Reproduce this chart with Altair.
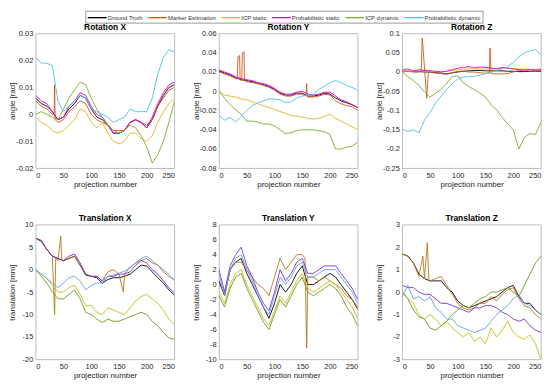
import altair as alt
import pandas as pd

SERIES = ["Ground Truth", "Marker Estimation", "ICP static",
          "Probabilistic static", "ICP dynamic", "Probabilistic dynamic"]
TOP_COLORS = ["#000000", "#D95319", "#EDB120", "#E000E0", "#77AC30", "#4DBEEE"]
BOTTOM_COLORS = ["#000000", "#B8761E", "#C8BE14", "#7A35C8", "#6E9A22", "#6A9CF0"]

X = list(range(0, 251, 10))
X_TICKS = [0, 50, 100, 150, 200, 250]

# ---------------- Rotation X ----------------
RX_GT = [0.006, 0.004, 0.003, 0.001, -0.002, -0.001, 0.002, 0.004, 0.007, 0.006, 0.002, -0.001, -0.002,
         -0.004, -0.007, -0.007, -0.006, -0.003, -0.002, -0.003, -0.005, -0.002, 0.003, 0.007, 0.010, 0.011]
RX_MARKER_X = [0, 10, 20, 30, 33, 34, 35, 40, 50, 60, 70, 80, 90, 100, 110, 120, 130, 140, 150, 160,
               170, 180, 190, 200, 210, 220, 230, 240, 250]
RX_MARKER = [0.005, 0.003, 0.002, 0.000, 0.000, 0.011, -0.002, -0.003, -0.002, 0.001, 0.003, 0.005, 0.004,
             0.000, -0.002, -0.003, -0.004, -0.006, -0.006, -0.006, -0.003, -0.002, -0.003, -0.004, -0.002,
             0.003, 0.006, 0.009, 0.010]
RX_ICPS = [-0.001, -0.003, -0.004, -0.006, -0.007, -0.006, -0.004, -0.002, 0.002, 0.001, -0.003, -0.005,
           -0.003, -0.007, -0.010, -0.011, -0.010, -0.007, -0.007, -0.009, -0.010, -0.008, -0.003, 0.001,
           0.004, 0.006]
RX_PROBS = [0.007, 0.005, 0.004, 0.001, -0.002, -0.001, 0.003, 0.005, 0.008, 0.007, 0.003, 0.000, -0.001,
            -0.004, -0.007, -0.007, -0.006, -0.003, -0.002, -0.003, -0.005, -0.001, 0.004, 0.008, 0.011, 0.012]
RX_ICPD = [0.000, 0.001, 0.000, -0.001, -0.002, 0.002, 0.006, 0.009, 0.012, 0.011, 0.006, 0.002, -0.001,
           -0.004, -0.006, -0.007, -0.006, -0.004, -0.005, -0.008, -0.012, -0.018, -0.015, -0.010, -0.003,
           0.005]
RX_PROBD = [0.021, 0.019, 0.019, 0.018, 0.005, 0.001, 0.003, 0.005, 0.007, 0.006, 0.002, 0.001, 0.000,
            -0.001, -0.003, -0.002, -0.001, 0.002, 0.001, 0.001, 0.001, 0.006, 0.015, 0.021, 0.024, 0.023]

# ---------------- Rotation Y ----------------
RY_GT = [0.021, 0.019, 0.017, 0.014, 0.012, 0.011, 0.010, 0.008, 0.007, 0.005, 0.002, -0.002, -0.004,
         -0.004, -0.002, -0.002, -0.005, -0.005, -0.004, -0.002, -0.003, -0.007, -0.010, -0.012, -0.014, -0.017]
RY_MARKER_X = [0, 10, 20, 30, 33, 34, 37, 38, 40, 41, 42, 45, 46, 50, 60, 70, 80, 90, 100, 110, 120, 130,
               140, 150, 157, 158, 159, 160, 170, 180, 190, 200, 210, 220, 230, 240, 250]
RY_MARKER = [0.020, 0.018, 0.016, 0.013, 0.013, 0.036, 0.037, 0.012, 0.011, 0.012, 0.040, 0.041, 0.011,
             0.010, 0.009, 0.008, 0.006, 0.004, 0.001, -0.003, -0.005, -0.005, -0.003, -0.003, -0.005, 0.008,
             -0.005, -0.006, -0.006, -0.005, -0.003, -0.004, -0.010, -0.013, -0.015, -0.016, -0.020]
RY_ICPS = [0.000, -0.004, -0.005, -0.006, -0.008, -0.009, -0.011, -0.013, -0.015, -0.017, -0.019, -0.021,
           -0.023, -0.025, -0.026, -0.027, -0.028, -0.029, -0.028, -0.026, -0.024, -0.028, -0.031, -0.034,
           -0.037, -0.040]
RY_PROBS = [0.022, 0.020, 0.018, 0.015, 0.013, 0.012, 0.011, 0.009, 0.008, 0.006, 0.003, -0.001, -0.003,
            -0.003, -0.001, 0.000, -0.003, -0.004, -0.003, -0.001, -0.001, -0.005, -0.009, -0.011, -0.014,
            -0.017]
RY_ICPD = [0.000, -0.007, -0.014, -0.019, -0.024, -0.031, -0.031, -0.032, -0.034, -0.034, -0.036, -0.040,
           -0.044, -0.043, -0.041, -0.040, -0.040, -0.040, -0.041, -0.042, -0.045, -0.060, -0.060, -0.058,
           -0.057, -0.053]
RY_PROBD = [-0.025, -0.030, -0.027, -0.032, -0.026, -0.020, -0.015, -0.012, -0.010, -0.008, -0.008, -0.009,
            -0.012, -0.011, -0.007, -0.005, -0.004, -0.003, 0.002, 0.005, 0.009, 0.011, 0.009, 0.006, 0.004,
            0.001]

# ---------------- Rotation Z ----------------
RZ_GT = [0.002, 0.002, 0.001, 0.001, 0.000, 0.000, -0.002, -0.003, -0.005, -0.002, 0.000, 0.002, 0.003,
         0.004, 0.004, 0.003, 0.003, 0.003, 0.003, 0.002, 0.002, 0.001, 0.001, 0.002, 0.002, 0.002]
RZ_MARKER_X = [0, 10, 20, 30, 34, 36, 44, 47, 50, 60, 70, 80, 90, 100, 110, 120, 130, 140, 150, 157, 158,
               160, 170, 180, 190, 200, 210, 220, 230, 240, 250]
RZ_MARKER = [0.000, 0.002, 0.000, 0.000, 0.002, 0.088, -0.068, 0.000, 0.000, -0.003, -0.004, -0.006, -0.002,
             0.002, 0.002, 0.000, 0.000, -0.002, -0.003, -0.003, 0.062, -0.004, -0.005, -0.005, -0.004, 0.000,
             0.004, 0.005, 0.006, 0.005, 0.005]
RZ_ICPS = [0.002, 0.003, 0.002, 0.003, 0.003, 0.002, 0.001, 0.001, 0.002, 0.004, 0.006, 0.007, 0.008, 0.008,
           0.008, 0.008, 0.008, 0.009, 0.010, 0.010, 0.009, 0.008, 0.008, 0.007, 0.007, 0.008]
RZ_PROBS = [0.005, 0.008, 0.003, 0.006, 0.004, 0.003, 0.002, 0.000, 0.002, 0.006, 0.010, 0.012, 0.014, 0.011,
            0.013, 0.012, 0.010, 0.008, 0.012, 0.010, 0.008, 0.006, 0.005, 0.006, 0.005, 0.006]
RZ_ICPD = [0.000, -0.012, -0.022, -0.035, -0.052, -0.065, -0.055, -0.045, -0.030, -0.012, -0.010, -0.028,
           -0.038, -0.046, -0.055, -0.065, -0.085, -0.098, -0.118, -0.135, -0.150, -0.200, -0.170, -0.160,
           -0.162, -0.130]
RZ_PROBD = [-0.148, -0.155, -0.150, -0.158, -0.125, -0.105, -0.080, -0.062, -0.045, -0.030, -0.018, -0.013,
            -0.012, -0.011, -0.008, -0.004, 0.000, 0.004, 0.008, 0.014, 0.025, 0.040, 0.050, 0.055, 0.058,
            0.045]

# ---------------- Translation X ----------------
TX_GT = [7, 6.3, 4.5, 3, 2.5, 2, 2.5, 3, 1, -1.2, -1.5, -1.8, -3, -2.2, -1.8, -1.8, -1.5, -1, 0, 1, 0.8,
         -0.5, -1.8, -3, -4.5, -5.7]
TX_MARKER_X = [0, 10, 20, 30, 34, 36, 40, 45, 47, 50, 60, 70, 80, 90, 100, 110, 120, 130, 140, 150, 158,
               160, 170, 180, 190, 200, 210, 220, 230, 240, 250]
TX_MARKER = [7, 6.5, 4.5, 3, -10, 2.5, 2, 7.5, 2, 2, 2.5, 3, 1, -1, -1.5, -1.5, -2.5, -0.5, 0, -1, -5,
             -1, 0.5, 1.5, 2, 2.5, 1.5, 1, -0.5, -1.5, -2.2]
TX_ICPS = [0, -1, -2, -3.5, -5, -5, -4, -3.5, -5.5, -8, -8, -9.5, -10, -8.5, -9, -9.5, -10, -8.5, -7, -6,
           -5.5, -6.5, -7.5, -9, -11, -12.3]
TX_PROBS = [7, 6.5, 4.5, 3, 2.5, 2, 3, 3.5, 1.5, -1, -1.5, -1.5, -2.5, -1.5, -1.5, -1, -1, -0.5, 1, 2, 1.5,
            0, -1, -2.5, -4, -5.2]
TX_ICPD = [0, -1.5, -3, -5, -6.5, -6.5, -5.5, -4.5, -6.5, -9.5, -10, -11, -11.8, -11, -11.5, -11.5, -11,
           -10.5, -10, -9.5, -10, -11.5, -12.5, -14, -15.2, -15.5]
TX_PROBD = [0, -1, -2, -3, -4, -3, -1.8, -1.5, -2.5, -4.5, -3.5, -3, -3, -1.5, -1.2, -0.8, -0.3, 0.5, 1.5,
            2.5, 3, 2, 1, 0, -1, -2.5]

# ---------------- Translation Y ----------------
TY_GT = [0.5, -1.5, 2, 3, 3.5, 1.5, 0, -1.5, -3, -4.5, -2.5, 0, -1, 0, 1.5, 2.5, 0, 0, 0.5, 1, 1.5, 1, 0,
         -1, -2, -3.3]
TY_MARKER_X = [0, 10, 20, 30, 40, 50, 60, 70, 80, 90, 100, 110, 120, 130, 140, 150, 155, 158, 160, 170,
               180, 190, 200, 210, 220, 230, 240, 250]
TY_MARKER = [0, -1, 2, 3, 3, 2, 1, 0, -0.5, -1.5, 1, 3.5, 2, 3, 4, 4, 3.5, -8.5, 1, 1, 0.5, 1, 0.5, 0,
             -0.5, -1.5, -2, -3]
TY_ICPS = [-1, -2.5, 0, 1.5, 2, 0, -1.5, -3, -4.5, -5.5, -3.5, -1.5, -2.5, -1, 0.5, 1.5, -0.5, -1, -0.5, 0,
           0.5, 0, -1, -2, -3, -4.5]
TY_PROBS = [2, -1, 2.5, 4, 5, 2.5, 1, -1, -2.5, -3.5, -1, 2, 0.5, 1.5, 3, 3.5, 1.5, 1.5, 2, 2.5, 2.5, 2.5,
            1.5, 0.5, -0.5, -2]
TY_ICPD = [-1.5, -3, -0.5, 1, 1.5, -0.5, -2, -3.5, -5, -6, -4, -2, -3, -1.5, 0, 1, -1, -1.5, -1, -0.5, 0,
           -0.5, -1.5, -3, -4, -5.5]
TY_PROBD = [1.5, -1.5, 2, 3.5, 4, 2, 0.5, -1.5, -3, -4, -1.5, 1, 0, 1, 2.5, 3, 1, 1, 1.5, 2, 2, 2, 1, 0,
            -1, -2.5]

# ---------------- Translation Z ----------------
TZ_GT = [1.7, 1.6, 1.3, 0.8, 0.6, 0.5, 0.5, 0.5, 0.2, 0, -0.4, -0.6, -0.7, -0.6, -0.5, -0.4, -0.3, -0.2, 0,
         0.2, 0.3, -0.2, -0.5, -0.5, -0.8, -1]
TZ_MARKER_X = [0, 10, 20, 30, 37, 40, 45, 48, 50, 60, 70, 80, 90, 100, 110, 120, 130, 140, 150, 160, 170,
               180, 190, 200, 210, 220, 230, 240, 250]
TZ_MARKER = [1.7, 1.6, 1.3, 0.7, 1.6, 0.6, 2.2, 0.5, 0.5, 0.6, 0.7, 0.3, -0.1, -0.5, -0.7, -0.8, -0.7, -0.5,
             -0.5, -0.2, -0.4, -0.1, 0.1, 0.2, -0.3, -0.6, -0.7, -1, -1.2]
TZ_ICPS = [0, -0.3, -0.5, -1, -1.2, -1, -1.2, -1.5, -1.3, -1.6, -1.8, -2, -1.8, -2.2, -2, -2.3, -1.6, -2,
           -1.7, -1.3, -1.8, -2, -2.1, -1.9, -2.3, -3]
TZ_PROBS = [0.3, 0.2, 0.2, 0, -0.1, -0.1, -0.3, -0.5, -0.5, -0.6, -0.7, -0.8, -0.9, -0.7, -0.7, -0.6, -0.6,
            -0.7, -0.9, -1, -1.2, -1.3, -1.2, -1.5, -1.7, -1.8]
TZ_ICPD = [0, -0.3, -0.8, -1.1, -1.2, -1.6, -1.7, -1.5, -1.3, -1, -0.8, -0.6, -0.7, -0.5, -0.3, -0.2, 0, 0,
           0.1, 0.2, 0, -0.2, 0.3, 0.8, 1.3, 1.6]
TZ_PROBD = [-0.2, 0.3, -0.3, -0.2, -0.4, -0.2, -0.7, -0.9, -1.2, -1.2, -1.5, -1.6, -1.7, -1.8, -1.7, -1.6,
            -1.3, -1, -0.8, -0.6, -0.3, -0.1, -0.5, -0.6, -0.8, -1]

PANELS = [
    ("Rotation X", "angle [rad]", [-0.02, 0.03], [-0.02, -0.01, 0, 0.01, 0.02, 0.03],
     [RX_GT, (RX_MARKER_X, RX_MARKER), RX_ICPS, RX_PROBS, RX_ICPD, RX_PROBD]),
    ("Rotation Y", "angle [rad]", [-0.08, 0.06], [-0.08, -0.06, -0.04, -0.02, 0, 0.02, 0.04, 0.06],
     [RY_GT, (RY_MARKER_X, RY_MARKER), RY_ICPS, RY_PROBS, RY_ICPD, RY_PROBD]),
    ("Rotation Z", "angle [rad]", [-0.25, 0.1], [-0.25, -0.2, -0.15, -0.1, -0.05, 0, 0.05, 0.1],
     [RZ_GT, (RZ_MARKER_X, RZ_MARKER), RZ_ICPS, RZ_PROBS, RZ_ICPD, RZ_PROBD]),
    ("Translation X", "translation [mm]", [-20, 10], [-20, -15, -10, -5, 0, 5, 10],
     [TX_GT, (TX_MARKER_X, TX_MARKER), TX_ICPS, TX_PROBS, TX_ICPD, TX_PROBD]),
    ("Translation Y", "translation [mm]", [-10, 8], [-10, -8, -6, -4, -2, 0, 2, 4, 6, 8],
     [TY_GT, (TY_MARKER_X, TY_MARKER), TY_ICPS, TY_PROBS, TY_ICPD, TY_PROBD]),
    ("Translation Z", "translation [mm]", [-3, 3], [-3, -2, -1, 0, 1, 2, 3],
     [TZ_GT, (TZ_MARKER_X, TZ_MARKER), TZ_ICPS, TZ_PROBS, TZ_ICPD, TZ_PROBD]),
]

FONT = "Liberation Sans"
PANEL_W = 140
PANEL_H = 136


def make_df(series_data):
    rows = []
    for order, (name, data) in enumerate(zip(SERIES, series_data)):
        if isinstance(data, tuple):
            xs, ys = data
        else:
            xs, ys = X, data
        for xv, yv in zip(xs, ys):
            rows.append({"series": name, "x": xv, "y": yv, "k": order})
    return pd.DataFrame(rows)


def make_panel(title, ytitle, ydom, yvals, series_data, colors, legend):
    df = make_df(series_data)
    return alt.Chart(df, title=alt.TitleParams(title, frame="group", offset=-2)).mark_line(
        strokeWidth=0.9, clip=True
    ).encode(
        x=alt.X("x:Q", scale=alt.Scale(domain=[0, 250], nice=False, zero=False),
                axis=alt.Axis(values=X_TICKS, title="projection number", labelExpr="'' + datum.value")),
        y=alt.Y("y:Q", scale=alt.Scale(domain=ydom, nice=False, zero=False),
                axis=alt.Axis(values=yvals, title=ytitle, labelExpr="'' + datum.value")),
        color=alt.Color("series:N", scale=alt.Scale(domain=SERIES, range=colors), legend=legend),
    ).properties(width=PANEL_W, height=PANEL_H)


legend = alt.Legend(
    orient="none", direction="horizontal", title=None, legendX=50, legendY=-23,
    symbolType="M-2,0L2,0", symbolSize=90, symbolStrokeWidth=1.3, symbolOffset=5,
    labelFontSize=6.0, labelFont=FONT, labelColor="#333333", columnPadding=2, labelOffset=5,
    gridAlign="none", padding=1.5, strokeColor="#9a9a9a", fillColor="white", columns=6,
)

top = [make_panel(*p, TOP_COLORS, legend) for p in PANELS[:3]]
bottom = [make_panel(*p, BOTTOM_COLORS, None) for p in PANELS[3:]]

chart = alt.vconcat(
    alt.hconcat(*top, spacing=16),
    alt.hconcat(*bottom, spacing=16),
    spacing=25,
).resolve_scale(color="independent").properties(padding=0).configure_view(
    stroke="#a0a0a0", strokeWidth=0.7
).configure_axis(
    domain=False, ticks=False, grid=False, labelFont=FONT, titleFont=FONT,
    labelFontSize=7.5, titleFontSize=8, labelColor="#262626", titleColor="#262626",
    titleFontWeight="normal", labelPadding=3, titlePadding=2,
).configure_axisY(
    minExtent=17, maxExtent=17,
).configure_title(
    font=FONT, fontSize=8.5, fontWeight="bold", color="#000000",
)

chart.save("out.html", embed_options={"renderer": "svg", "actions": False})
